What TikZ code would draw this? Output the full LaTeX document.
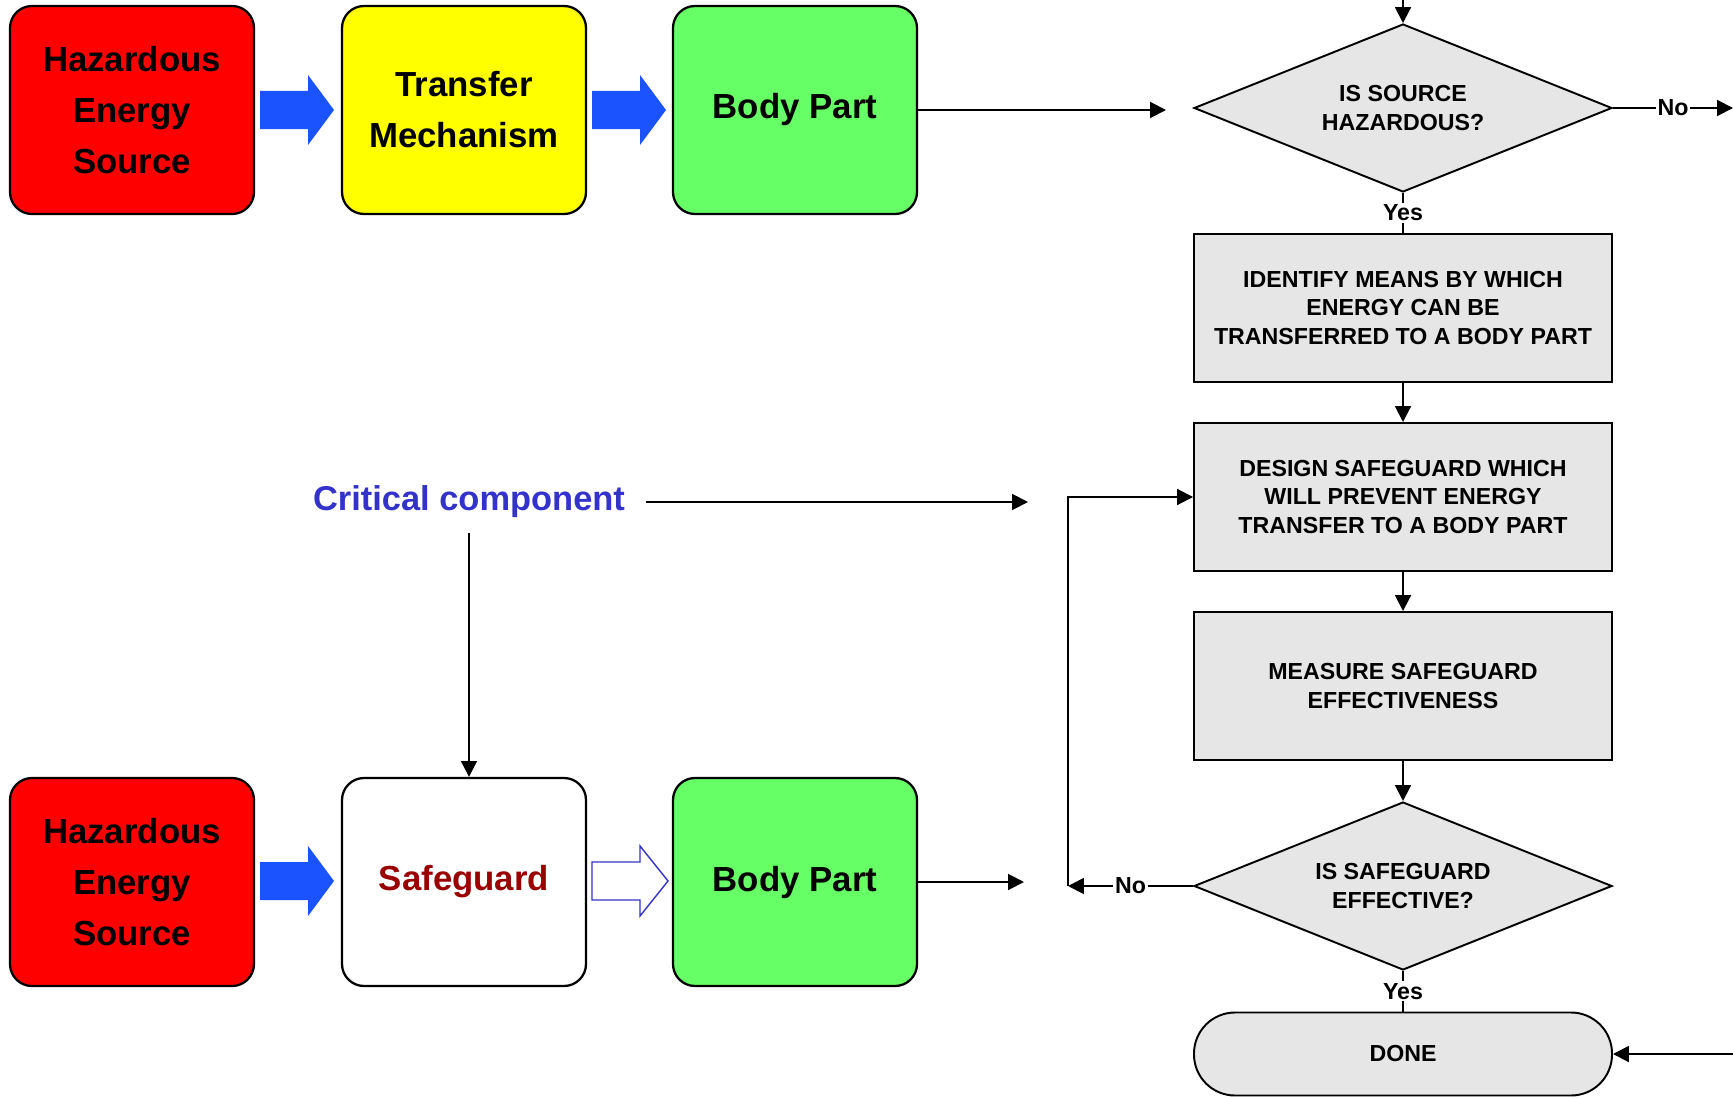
\documentclass[tikz,border=0pt]{standalone}
\usepackage{fontspec}
\setmainfont{Liberation Sans}
\usetikzlibrary{arrows.meta,shapes.geometric}
\definecolor{sourcered}{RGB}{255,0,0}
\definecolor{transferyellow}{RGB}{255,255,0}
\definecolor{bodygreen}{RGB}{102,255,102}
\definecolor{arrowblue}{RGB}{26,83,255}
\definecolor{criticalblue}{RGB}{51,51,204}
\definecolor{guardred}{RGB}{153,0,0}
\definecolor{stepgray}{RGB}{230,230,230}
\tikzset{
  chainbox/.style={
    draw=black,
    line width=1.3pt,
    rounded corners=4.4mm,
    minimum width=48.8mm,
    minimum height=41.6mm,
    align=center,
    font=\fontsize{19.8}{29}\selectfont\bfseries
  },
  stepbox/.style={
    draw=black,
    fill=stepgray,
    line width=1.1pt,
    minimum width=83.6mm,
    minimum height=29.6mm,
    inner sep=0pt,
    align=center,
    font=\fontsize{13.2}{16}\selectfont\bfseries
  },
  decisionbox/.style={
    stepbox,
    diamond,
    aspect=2.5,
    minimum height=33.6mm
  },
  flowline/.style={
    draw=black,
    line width=1.1pt
  },
  flowarrow/.style={
    flowline,
    -{Triangle[length=9pt,width=9pt]}
  },
  flowlabel/.style={
    fill=white,
    inner sep=1pt,
    font=\fontsize{13.2}{16}\selectfont\bfseries
  },
  blockarrow/.style={
    fill=arrowblue
  },
  hollowarrow/.style={
    draw=criticalblue,
    fill=white,
    line width=0.8pt
  }
}

\begin{document}
\begin{tikzpicture}[x=0.2mm,y=-0.2mm]

  % Page frame, one unit per pixel of the original sheet.
  \useasboundingbox (0,0) rectangle (1733,1097);

  % Upper chain: source, transfer and body part.
  \node[chainbox,fill=sourcered]      (hz1)   at (132,110) {Hazardous\\Energy\\Source};
  \node[chainbox,fill=transferyellow] (trans) at (464,110) {Transfer\\Mechanism};
  \node[chainbox,fill=bodygreen]      (body1) at (795,110) {Body Part};

  % Lower chain: the safeguard takes the place of the transfer mechanism.
  \node[chainbox,fill=sourcered]  (hz2)   at (132,882) {Hazardous\\Energy\\Source};
  \node[chainbox,fill=white,text=guardred] (safe) at (464,882) {Safeguard};
  \node[chainbox,fill=bodygreen]  (body2) at (795,882) {Body Part};

  % Solid energy arrows between the boxes.
  \fill[blockarrow,shift={(260,110)}] (0,-19) -- (48,-19) -- (48,-35) -- (74,0)
    -- (48,35) -- (48,19) -- (0,19) -- cycle;
  \fill[blockarrow,shift={(592,110)}] (0,-19) -- (48,-19) -- (48,-35) -- (74,0)
    -- (48,35) -- (48,19) -- (0,19) -- cycle;
  \fill[blockarrow,shift={(260,881)}] (0,-19) -- (48,-19) -- (48,-35) -- (74,0)
    -- (48,35) -- (48,19) -- (0,19) -- cycle;

  % Blocked transfer is only an outline.
  \path[hollowarrow,shift={(592,881)}] (0,-19) -- (48,-19) -- (48,-35) -- (76,0)
    -- (48,35) -- (48,19) -- (0,19) -- cycle;

  % Label for the safeguard.
  \node[text=criticalblue,font=\fontsize{19.6}{23}\selectfont\bfseries,
        inner xsep=4.2mm,inner ysep=3mm]
    (crit) at (469,502) {Critical component};

  % Flow chart on the right.
  \node[decisionbox] (d1)   at (1403,108) {IS SOURCE\\HAZARDOUS?};
  \node[stepbox]     (s1)   at (1403,308) {IDENTIFY MEANS BY WHICH\\ENERGY CAN BE\\TRANSFERRED TO A BODY PART};
  \node[stepbox]     (s2)   at (1403,497) {DESIGN SAFEGUARD WHICH\\WILL PREVENT ENERGY\\TRANSFER TO A BODY PART};
  \node[stepbox]     (s3)   at (1403,686) {MEASURE SAFEGUARD\\EFFECTIVENESS};
  \node[decisionbox] (d2)   at (1403,886) {IS SAFEGUARD\\EFFECTIVE?};
  \node[stepbox,minimum height=16.6mm,rounded corners=8.2mm] (done) at (1403,1054) {DONE};

  % Free ends of the connectors.
  \coordinate (topin)   at (1403,0);
  \coordinate (noout)   at (1733,108);
  \coordinate (donein)  at (1733,1054);
  \coordinate (loop)    at (1068,886);
  \coordinate (bodyto1) at (1166,110);
  \coordinate (bodyto2) at (1024,882);
  \coordinate (critto)  at (1028,502);

  % Connectors of the flow chart.
  \draw[flowarrow] (topin) -- (d1.north);
  \draw[flowarrow] (d1.east) -- node[flowlabel] {No} (noout);
  \draw[flowline]  (d1.south) -- node[flowlabel] {Yes} (s1.north);
  \draw[flowarrow] (s1.south) -- (s2.north);
  \draw[flowarrow] (s2.south) -- (s3.north);
  \draw[flowarrow] (s3.south) -- (d2.north);
  \draw[flowarrow] (d2.west) -- node[flowlabel] {No} (loop);
  \draw[flowarrow] (loop) |- (s2.west);
  \draw[flowline]  (d2.south) -- node[flowlabel] {Yes} (done.north);
  \draw[flowarrow] (donein) -- (done.east);

  % Links from the left half into the chart.
  \draw[flowarrow] (body1.east) -- (bodyto1);
  \draw[flowarrow] (body2.east) -- (bodyto2);
  \draw[flowarrow] (crit.east) -- (critto);
  \draw[flowarrow] (crit.south) -- (crit.south |- safe.north);

\end{tikzpicture}
\end{document}
